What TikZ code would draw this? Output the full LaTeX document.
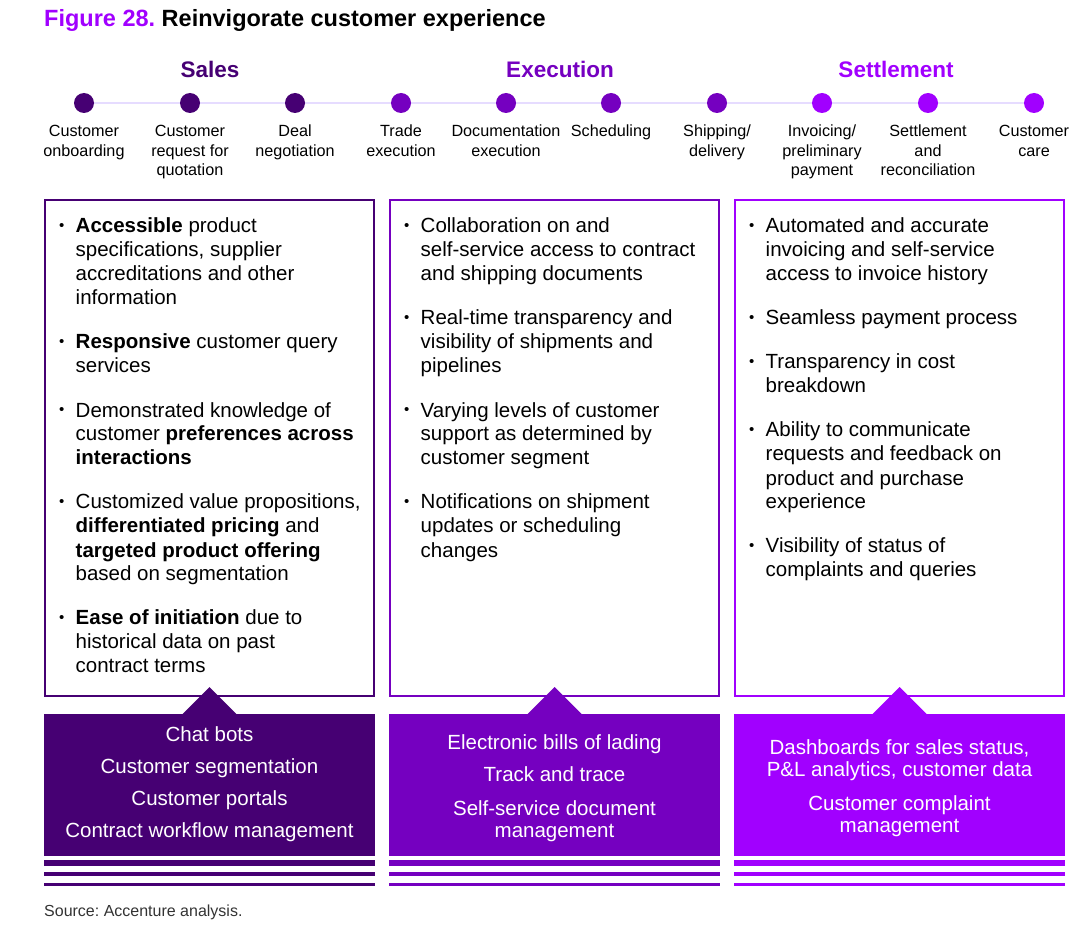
\documentclass[tikz,border=0pt]{standalone}
\usepackage{fontspec}
\setmainfont{Liberation Sans}
\usetikzlibrary{positioning,backgrounds}
\definecolor{accdark}{HTML}{460073}
\definecolor{accmid}{HTML}{7500C0}
\definecolor{accbright}{HTML}{A100FF}
\definecolor{tline}{HTML}{E6DCFF}
\frenchspacing
\newcommand{\stack}[1]{\begin{tabular}[t]{@{}c@{}}#1\end{tabular}}
\newcommand{\blist}[1]{\begin{tabular}[t]{@{}l@{}l@{}}#1\end{tabular}}
\newcommand{\bul}{\makebox[16.5pt][l]{\raisebox{2.5pt}{\fontsize{15}{15}\selectfont\textbullet}}}

\begin{document}
\begin{tikzpicture}[x=1pt,y=-1pt,
    dot/.style={circle,fill=#1,minimum size=20pt,inner sep=0pt},
    steplabel/.style={font=\fontsize{16.2}{19.5}\selectfont,anchor=base,inner sep=0pt},
    phase/.style={font=\fontsize{22.5}{26}\selectfont\bfseries,text=#1,anchor=base,inner sep=0pt},
    outline/.style={draw=#1,line width=2pt},
    bodytext/.style={font=\fontsize{20.5}{24}\selectfont,anchor=base west,inner sep=0pt},
    tooltext/.style={font=\fontsize{20.5}{22}\selectfont,anchor=base,inner sep=0pt,text=white}]
  \useasboundingbox (0,0) rectangle (1092,936);

  % title and phases
  \node[anchor=base west,inner sep=0pt,font=\fontsize{23.5}{26}\selectfont\bfseries] (title) at (44,27)
    {\textcolor{accbright}{Figure 28.} Reinvigorate customer experience};
  \node[phase=accdark] (sales) at (210,78) {Sales};
  \node[phase=accmid] (execution) at (560,78) {Execution};
  \node[phase=accbright] (settlement) at (896,78) {Settlement};

  % timeline
  \foreach \x/\c/\txt [count=\i] in {84/accdark/{Customer\\onboarding},
      190/accdark/{Customer\\request for\\quotation}, 295/accdark/{Deal\\negotiation},
      401/accmid/{Trade\\execution}, 506/accmid/{Documentation\\execution},
      611/accmid/{Scheduling}, 717/accmid/{Shipping/\\delivery},
      822/accbright/{Invoicing/\\preliminary\\payment},
      928/accbright/{Settlement\\and\\reconciliation}, 1034/accbright/{Customer\\care}}{
    \node[dot=\c] (d\i) at (\x,103) {};
    \node[steplabel] (l\i) at (\x,137) {\stack{\txt}};
  }
  \begin{scope}[on background layer]
    \draw[tline,line width=2pt] (d1.center) -- (d10.center);
  \end{scope}

  % columns
  \foreach \lx/\c in {44/accdark, 389/accmid, 734/accbright}{
    \draw[outline=\c] (\lx+1,200) rectangle (\lx+330,696);
    \fill[\c] (\lx,714) rectangle (\lx+331,856);
    \fill[\c] (\lx+138,714.5) -- (\lx+165.5,687) -- (\lx+193,714.5) -- cycle;
    \fill[\c] (\lx,860) rectangle (\lx+331,866);
    \fill[\c] (\lx,872) rectangle (\lx+331,876);
    \fill[\c] (\lx,883) rectangle (\lx+331,885.5);
  }

  \node[bodytext] (saleslist) at (59,233) {\blist{%
    \bul & \textbf{Accessible} product\\
    & specifications, supplier\\
    & accreditations and other\\
    & information\\[20pt]
    \bul & \textbf{Responsive} customer query\\
    & services\\[20pt]
    \bul & Demonstrated knowledge of\\
    & customer \textbf{preferences across}\\
    & \textbf{interactions}\\[20pt]
    \bul & Customized value propositions,\\
    & \textbf{differentiated pricing} and\\
    & \textbf{targeted product offering}\\
    & based on segmentation\\[20pt]
    \bul & \textbf{Ease of initiation} due to\\
    & historical data on past\\
    & contract terms}};
  \node[bodytext] (execlist) at (404,233) {\blist{%
    \bul & Collaboration on and\\
    & self-service access to contract\\
    & and shipping documents\\[20pt]
    \bul & Real-time transparency and\\
    & visibility of shipments and\\
    & pipelines\\[20pt]
    \bul & Varying levels of customer\\
    & support as determined by\\
    & customer segment\\[20pt]
    \bul & Notifications on shipment\\
    & updates or scheduling\\
    & changes}};
  \node[bodytext] (settlelist) at (749,233) {\blist{%
    \bul & Automated and accurate\\
    & invoicing and self-service\\
    & access to invoice history\\[20pt]
    \bul & Seamless payment process\\[20pt]
    \bul & Transparency in cost\\
    & breakdown\\[20pt]
    \bul & Ability to communicate\\
    & requests and feedback on\\
    & product and purchase\\
    & experience\\[20pt]
    \bul & Visibility of status of\\
    & complaints and queries}};

  % enablers
  \node[tooltext] (salestools) at (209.5,741) {\stack{Chat bots\\[10pt]
    Customer segmentation\\[10pt] Customer portals\\[10pt] Contract workflow management}};
  \node[tooltext] (exectools) at (554.5,749) {\stack{Electronic bills of lading\\[10pt]
    Track and trace\\[12pt] Self-service document\\ management}};
  \node[tooltext] (settletools) at (899.5,754) {\stack{Dashboards for sales status,\\
    P\&L analytics, customer data\\[12pt] Customer complaint\\ management}};

  \node[anchor=base west,inner sep=0pt,font=\fontsize{16}{19}\selectfont,text=black!80] (source)
    at (44,916.5) {Source: Accenture analysis.};
\end{tikzpicture}
\end{document}
